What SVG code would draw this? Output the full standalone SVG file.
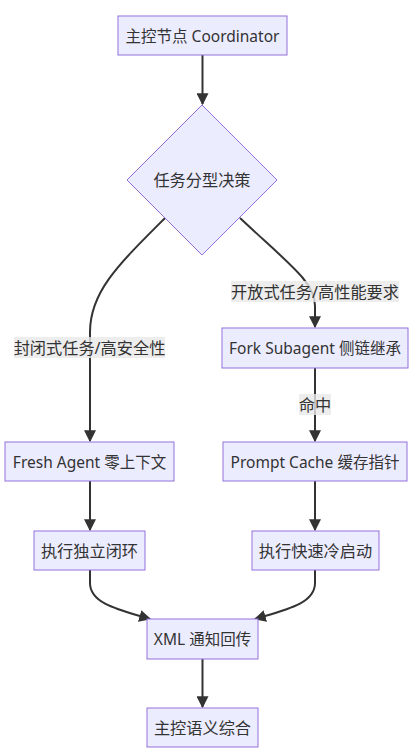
<svg xmlns="http://www.w3.org/2000/svg" width="417" height="752" viewBox="0 0 417 752">
<style>
.node rect,.node polygon{fill:#ECECFF;stroke:#9370DB;stroke-width:1}
text{font-family:"Noto Sans","Noto Sans CJK SC",sans-serif;font-size:15.5px;fill:#333;text-anchor:middle;dominant-baseline:central}
text.cjk{font-size:16.2px}
.edge{fill:none;stroke:#333;stroke-width:2}
.lbl{fill:rgba(232,232,232,0.8);stroke:none}
</style>
<defs>
<marker id="arr" viewBox="0 0 10 10" refX="9" refY="5" markerUnits="userSpaceOnUse" markerWidth="12" markerHeight="12" orient="auto">
<path d="M0,0 L10,5 L0,10 z" fill="#333"/>
</marker>
</defs>
<rect width="417" height="752" fill="#fff"/>
<g id="edges">
<path class="edge" d="M202.5,55 L202.5,104" marker-end="url(#arr)"/>
<path class="edge" d="M165,218 C118,265 90,292 90,332 L90,441" marker-end="url(#arr)"/>
<path class="edge" d="M240,218 C290,265 315,282 315,306 L315,327" marker-end="url(#arr)"/>
<path class="edge" d="M315,368 L315,441" marker-end="url(#arr)"/>
<path class="edge" d="M90,481 L90,530" marker-end="url(#arr)"/>
<path class="edge" d="M315,481 L315,530" marker-end="url(#arr)"/>
<path class="edge" d="M90,570 L90,583 C90,604 120,610 150,619" marker-end="url(#arr)"/>
<path class="edge" d="M315,570 L315,583 C315,604 285,610 255,619" marker-end="url(#arr)"/>
<path class="edge" d="M202.5,659 L202.5,707" marker-end="url(#arr)"/>
</g>
<g id="edge-labels">
<rect class="lbl" x="14" y="337" width="151" height="21"/>
<text class="cjk" x="89.5" y="347.5">封闭式任务/高安全性</text>
<rect class="lbl" x="231" y="281" width="168" height="21"/>
<text class="cjk" x="315" y="291.5">开放式任务/高性能要求</text>
<rect class="lbl" x="299" y="394" width="32" height="21"/>
<text class="cjk" x="315" y="404.5">命中</text>
</g>
<g id="n1" class="node"><rect x="118" y="16" width="169" height="39"/><text x="202.5" y="35.5">主控节点 Coordinator</text></g>
<g id="n2" class="node"><polygon points="202,105 277,180 202,255 127,180"/><text class="cjk" x="202" y="180">任务分型决策</text></g>
<g id="n3" class="node"><rect x="222" y="328" width="186" height="40"/><text x="315" y="348">Fork Subagent 侧链继承</text></g>
<g id="n4" class="node"><rect x="5" y="442" width="169" height="39"/><text x="89.5" y="461.5">Fresh Agent 零上下文</text></g>
<g id="n5" class="node"><rect x="223" y="442" width="184" height="39"/><text x="315" y="461.5">Prompt Cache 缓存指针</text></g>
<g id="n6" class="node"><rect x="34" y="531" width="111" height="39"/><text class="cjk" x="89.5" y="550.5">执行独立闭环</text></g>
<g id="n7" class="node"><rect x="252" y="531" width="127" height="39"/><text class="cjk" x="315.5" y="550.5">执行快速冷启动</text></g>
<g id="n8" class="node"><rect x="147" y="619" width="111" height="40"/><text x="202.5" y="639">XML 通知回传</text></g>
<g id="n9" class="node"><rect x="147" y="708" width="111" height="39"/><text class="cjk" x="202.5" y="727.5">主控语义综合</text></g>
</svg>
